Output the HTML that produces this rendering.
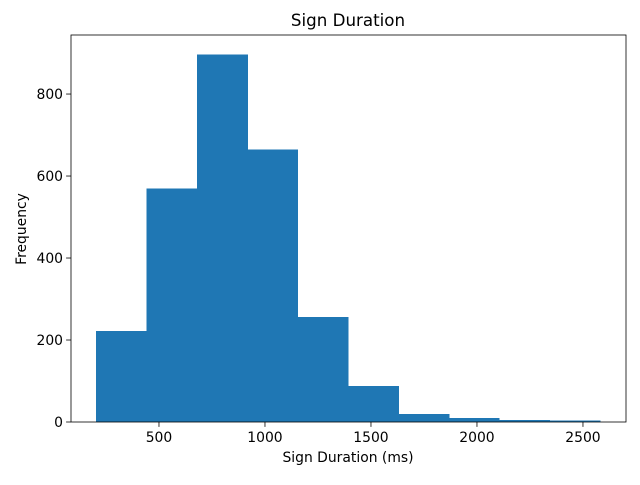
<!DOCTYPE html>
<html><head><meta charset="utf-8"><style>body{margin:0;background:#fff}svg text{font-family:"DejaVu Sans","Liberation Sans",sans-serif}</style></head>
<body>
<svg id="chart" width="640" height="480">
<g id="bars"></g>
<g id="axes"></g>
<text x="348" y="26" text-anchor="middle" font-size="16.7">Sign Duration</text>
<text x="348" y="462" text-anchor="middle" font-size="13.9">Sign Duration (ms)</text>
<text x="26" y="229" text-anchor="middle" font-size="13.9" transform="rotate(-90 26 229)">Frequency</text>
</svg>
<script>
const binStart = 203;
const binWidth = 237.7;
const counts = [222, 570, 897, 665, 256, 88, 20, 10, 5, 4];
const xTicks = [500, 1000, 1500, 2000, 2500];
const yTicks = [0, 200, 400, 600, 800];
const L=71,R=626,T=35,B=422, xMin=85, xMax=2703, yMax=944;
const sx=v=>L+(v-xMin)/(xMax-xMin)*(R-L);
const sy=v=>B-v/yMax*(B-T);
const NS="http://www.w3.org/2000/svg";
function mk(tag,attrs,parent,txt){const e=document.createElementNS(NS,tag);for(const k in attrs)e.setAttribute(k,attrs[k]);if(txt!==undefined)e.textContent=txt;parent.appendChild(e);return e;}
const bars=document.getElementById('bars'), axes=document.getElementById('axes');
counts.forEach((c,i)=>{const x0=sx(binStart+i*binWidth),x1=sx(binStart+(i+1)*binWidth);
const r=mk('rect',{x:x0,y:sy(c),width:x1-x0+0.6,height:B-sy(c),fill:'#1f77b4','shape-rendering':'crispEdges'},bars);

});
const frame=mk('rect',{x:L,y:T,width:R-L,height:B-T,fill:'none',stroke:'#000','stroke-width':0.8},axes);


xTicks.forEach(v=>{const x=sx(v);mk('line',{x1:x,x2:x,y1:B,y2:B+4.9,stroke:'#000','stroke-width':0.8},axes);
const t=mk('text',{x:x,y:B+20,'text-anchor':'middle','font-size':13.9},axes,v);

});
yTicks.forEach(v=>{const y=sy(v);mk('line',{x1:L,x2:L-4.9,y1:y,y2:y,stroke:'#000','stroke-width':0.8},axes);
const t=mk('text',{x:L-8,y:y+5,'text-anchor':'end','font-size':13.9},axes,v);

});
</script>
</body></html>
